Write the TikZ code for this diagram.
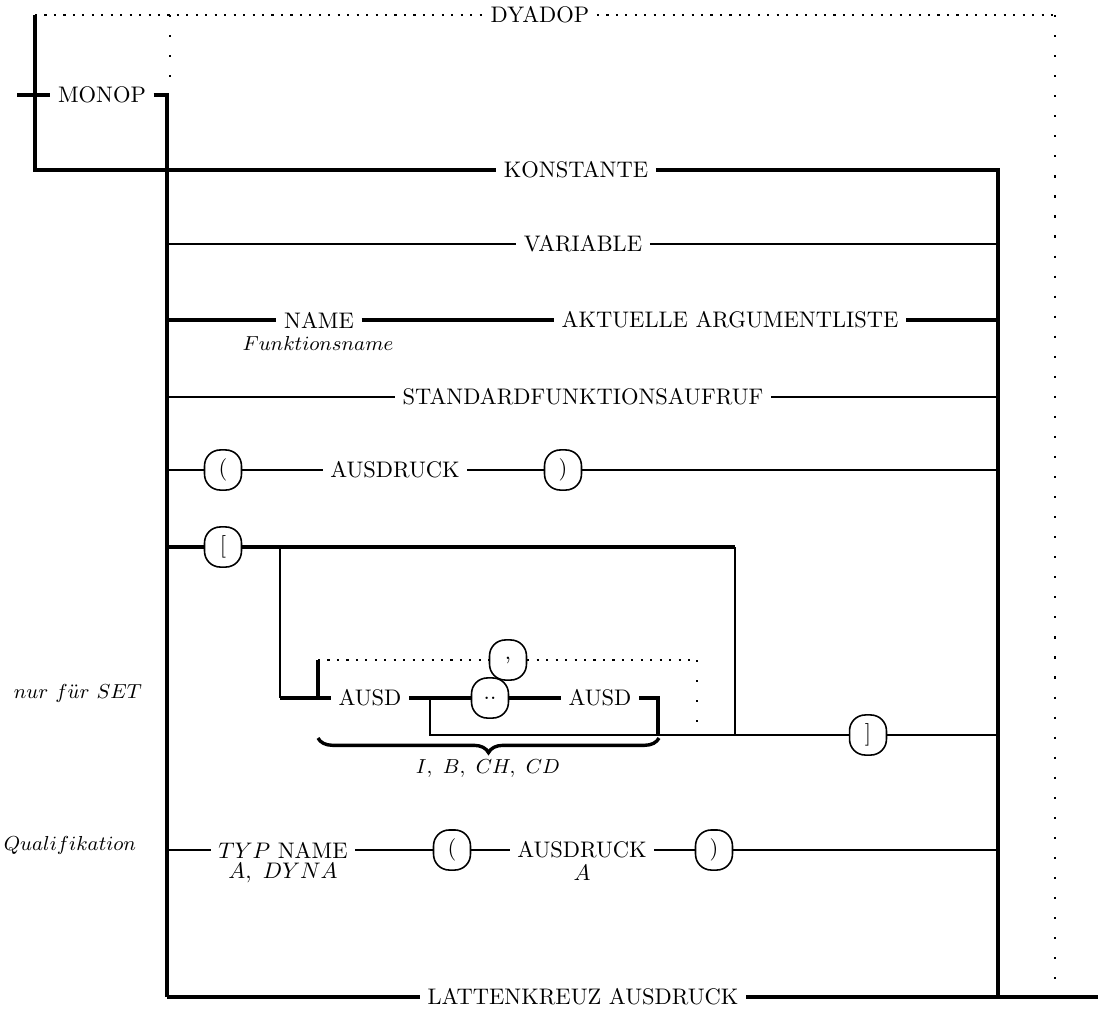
\documentclass[tikz,border=0pt]{standalone}
\usetikzlibrary{decorations.pathreplacing}
\begin{document}
\begin{tikzpicture}[x=0.444pt,y=-0.444pt,
  thk/.style={line width=1.5pt},
  thn/.style={line width=0.95pt},
  hdot/.style={line width=0.95pt,dash pattern=on 0.95pt off 3.25pt},
  vdot/.style={line width=0.95pt,dash pattern=on 0.95pt off 7.95pt},
  lbl/.style={inner xsep=3.2pt,inner ysep=1pt},
  sub/.style={inner sep=1pt},
  note/.style={inner sep=1pt,font=\fontsize{9}{11}\selectfont},
  term/.style={draw,line width=0.7pt,rounded corners=7pt,minimum width=16.4pt,minimum height=17.8pt,inner sep=0pt}]
\useasboundingbox (0,0) rectangle (1101,1012);

% --- operators above the main branch ---
\node[lbl] (dyadop) at (540,15) {DYADOP};
\coordinate (dtl) at (35,15);
\coordinate (dtr) at (1055,15);
\coordinate (dbr) at (1055,985);
\coordinate (dmt) at (170,15);
\coordinate (dmb) at (170,78);
\draw[hdot] (dtl) -- (dyadop.west);
\draw[hdot] (dyadop.east) -- (dtr);
\draw[vdot] (dtr) -- (dbr);
\draw[vdot] (dmt) -- (dmb);

\node[lbl] (monop) at (102,95) {MONOP};
\coordinate (entry) at (17,95);
\coordinate (mr) at (167,95);
\coordinate (lb) at (167,997);
\draw[thk] (entry) -- (monop.west);
\draw[thk] (monop.east) -- (mr) -- (lb);

% --- KONSTANTE and the right collector ---
\node[lbl] (konst) at (576,170) {KONSTANTE};
\coordinate (ktl) at (35,15);
\coordinate (kbl) at (35,170);
\coordinate (rt) at (998,170);
\coordinate (rb) at (998,997);
\draw[thk] (ktl) -- (kbl) -- (konst.west);
\draw[thk] (konst.east) -- (rt) -- (rb);

% --- VARIABLE ---
\node[lbl] (var) at (583,244) {VARIABLE};
\draw[thn] (167,244) -- (var.west);
\draw[thn] (var.east) -- (998,244);

% --- function call ---
\node[lbl] (fname) at (319,320) {NAME};
\node[note] (fnote) at (318,343) {$Funktionsname$};
\node[lbl] (aargs) at (730,320) {AKTUELLE ARGUMENTLISTE};
\draw[thk] (167,320) -- (fname.west);
\draw[thk] (fname.east) -- (aargs.west);
\draw[thk] (aargs.east) -- (998,320);

% --- standard function ---
\node[lbl] (std) at (583,397) {STANDARDFUNKTIONSAUFRUF};
\draw[thn] (167,397) -- (std.west);
\draw[thn] (std.east) -- (998,397);

% --- parenthesised expression ---
\node[term] (po) at (223,470) {(};
\node[lbl] (pexp) at (395,470) {AUSDRUCK};
\node[term] (pc) at (563,470) {)};
\draw[thn] (167,470) -- (po.west);
\draw[thn] (po.east) -- (pexp.west);
\draw[thn] (pexp.east) -- (pc.west);
\draw[thn] (pc.east) -- (998,470);

% --- set constructor ---
\node[term] (so) at (223,547) {[};
\coordinate (stop) at (735,547);
\coordinate (sjoin) at (735,735);
\coordinate (sa) at (280,547);
\coordinate (sb) at (280,698);
\coordinate (sc) at (318,698);
\coordinate (sd) at (318,660);
\coordinate (se) at (697,660);
\coordinate (sf) at (697,725);
\coordinate (sg) at (430,698);
\coordinate (sh) at (430,735);
\coordinate (si) at (658,698);
\coordinate (sj) at (658,735);
\node[term] (comma) at (508,660) {,};
\node[lbl] (ea) at (370,698) {AUSD};
\node[term] (range) at (490,698) {..};
\node[lbl] (eb) at (600,698) {AUSD};
\node[term] (sc2) at (868,735) {]};
\draw[thk] (167,547) -- (so.west);
\draw[thk] (so.east) -- (stop);
\draw[thn] (stop) -- (sjoin);
\draw[thn] (sa) -- (sb);
\draw[thk] (sb) -- (ea.west);
\draw[thk] (sc) -- (sd);
\draw[hdot] (sd) -- (comma.west);
\draw[hdot] (comma.east) -- (se);
\draw[vdot] (se) -- (sf);
\draw[thk] (ea.east) -- (range.west);
\draw[thk] (range.east) -- (eb.west);
\draw[thk] (eb.east) -- (si) -- (sj);
\draw[thn] (sg) -- (sh) -- (sc2.west);
\draw[thn] (sc2.east) -- (998,735);
\draw[thk,decorate,decoration={brace,mirror,amplitude=6.5pt}] (318,738) -- (659,738);
\node[note] (types) at (488,769) {$I,\ B,\ CH,\ CD$};
\node[note] (setnote) at (78,693) {$nur\ f\ddot{u}r\ SET$};

% --- qualification ---
\node[note] (qnote) at (70,845) {$Qualifikation$};
\node[lbl] (qtyp) at (283,850) {$TYP$ NAME};
\node[sub] (qtypn) at (283,873) {$A,\ DYNA$};
\node[term] (qo) at (452,850) {(};
\node[lbl] (qexp) at (582,850) {AUSDRUCK};
\node[sub] (qexpn) at (582,873) {$A$};
\node[term] (qc) at (714,850) {)};
\draw[thn] (167,850) -- (qtyp.west);
\draw[thn] (qtyp.east) -- (qo.west);
\draw[thn] (qo.east) -- (qexp.west);
\draw[thn] (qexp.east) -- (qc.west);
\draw[thn] (qc.east) -- (998,850);

% --- LATTENKREUZ AUSDRUCK and exit ---
\node[lbl] (latt) at (583,997) {LATTENKREUZ AUSDRUCK};
\coordinate (exit) at (1098,997);
\draw[thk] (lb) -- (latt.west);
\draw[thk] (latt.east) -- (exit);
\end{tikzpicture}
\end{document}
